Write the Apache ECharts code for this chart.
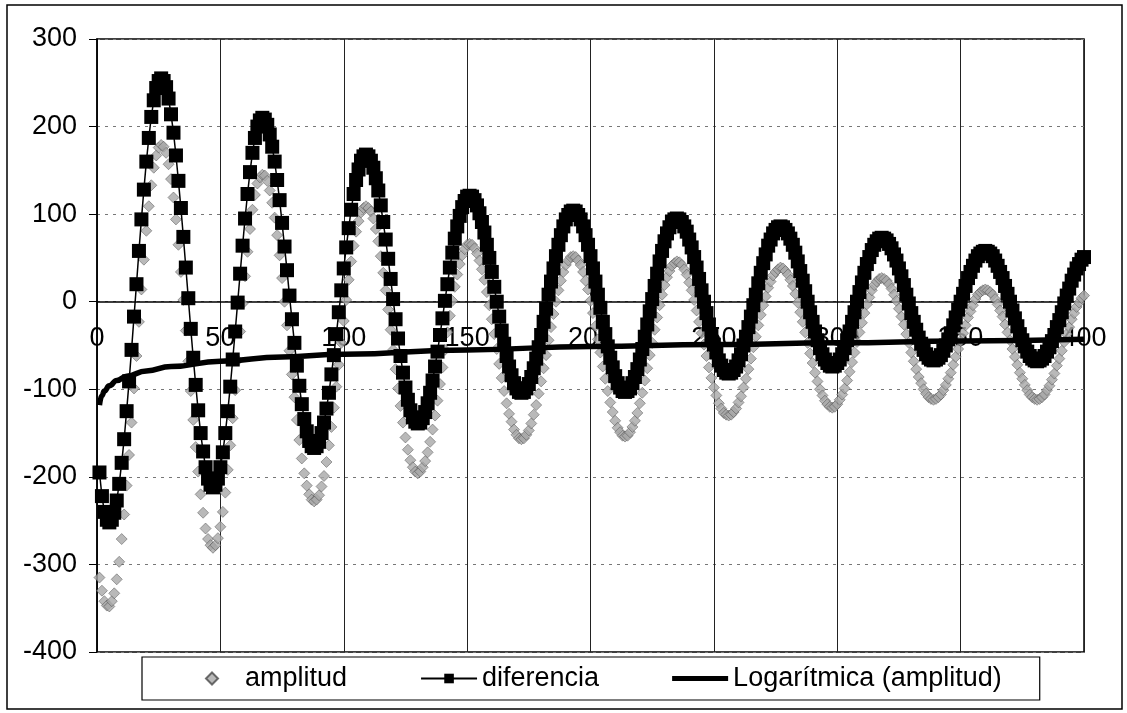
<!DOCTYPE html>
<html>
<head>
<meta charset="utf-8">
<title>amplitud / diferencia</title>
<script src="https://cdn.jsdelivr.net/npm/echarts@6/dist/echarts.min.js"></script>
<style>
  html, body { margin: 0; padding: 0; background: #fff; }
  #chart { width: 1127px; height: 713px; }
</style>
</head>
<body>
<div id="chart"></div>
<script>
// Samples are taken at x = 1, 2, 3 ... 400 (one value per unit step).
const amplitud = [
  -315,-330,-342,-347,-348,-342,-333,-317,-297,-271,-243,-210,-175,-138,-99,-62,-23,14,48,81,
  109,133,153,167,176,179,177,170,157,140,119,94,65,34,2,-33,-68,-102,-135,-166,
  -194,-220,-241,-259,-271,-278,-281,-278,-270,-257,-240,-218,-192,-164,-133,-101,-67,-34,-2,29,
  57,83,105,122,135,142,145,144,138,127,113,96,76,53,27,0,-27,-56,-83,-109,
  -135,-158,-179,-196,-210,-220,-226,-228,-226,-221,-211,-199,-183,-164,-143,-121,-97,-72,-47,-22,
  2,25,46,64,80,92,102,107,109,107,103,95,83,69,52,33,13,-9,-32,-55,
  -77,-99,-119,-138,-155,-169,-181,-189,-194,-196,-194,-189,-182,-172,-160,-146,-130,-113,-94,-75,
  -55,-35,-16,1,17,31,43,53,60,65,66,65,61,55,47,37,25,11,-4,-20,
  -37,-54,-71,-87,-102,-116,-128,-137,-146,-152,-156,-157,-156,-152,-147,-139,-129,-118,-105,-91,
  -76,-61,-44,-29,-14,0,13,24,34,42,47,51,52,51,47,42,34,24,14,1,
  -13,-28,-43,-58,-74,-88,-102,-115,-126,-136,-144,-149,-153,-154,-153,-149,-143,-136,-127,-116,
  -104,-90,-76,-61,-47,-32,-18,-4,8,19,28,35,41,44,46,45,42,37,31,22,
  13,2,-10,-23,-36,-49,-62,-75,-87,-98,-107,-116,-122,-127,-129,-130,-129,-126,-122,-115,
  -108,-98,-88,-77,-65,-52,-40,-27,-15,-4,6,16,23,30,34,37,39,38,35,31,
  25,18,9,-1,-12,-23,-35,-47,-59,-70,-81,-91,-100,-107,-113,-117,-120,-121,-120,-117,
  -112,-106,-99,-90,-80,-69,-58,-46,-35,-24,-13,-3,5,13,19,23,26,27,26,24,
  20,15,8,1,-8,-17,-26,-37,-47,-58,-68,-77,-86,-93,-100,-105,-109,-111,-112,-111,
  -109,-106,-101,-95,-88,-81,-72,-63,-54,-45,-36,-27,-18,-11,-4,3,8,11,13,14,
  13,11,8,3,-3,-10,-17,-26,-35,-44,-54,-63,-72,-81,-88,-95,-101,-106,-109,-111,
  -112,-111,-109,-106,-101,-96,-89,-82,-73,-65,-56,-46,-37,-29,-20,-13,-6,-1,4,7
];

const diferencia = [
  -195,-222,-240,-249,-252,-249,-241,-227,-208,-184,-157,-125,-91,-55,-17,20,58,94,128,160,
  187,211,230,244,252,255,252,245,232,214,193,167,138,107,74,39,4,-31,-64,-95,
  -124,-150,-171,-189,-202,-209,-212,-209,-202,-189,-172,-150,-125,-97,-66,-34,-1,32,64,95,
  123,148,170,187,200,207,210,208,202,191,177,160,139,116,90,63,36,7,-20,-47,
  -73,-96,-117,-134,-148,-159,-165,-167,-165,-160,-150,-138,-122,-104,-83,-61,-37,-12,13,38,
  62,84,105,123,139,151,161,166,168,166,161,153,141,127,110,91,71,49,26,3,
  -20,-42,-62,-81,-98,-112,-124,-132,-137,-139,-138,-133,-126,-116,-104,-90,-74,-57,-38,-19,
  1,20,39,56,72,86,98,108,115,120,121,120,116,110,101,91,79,65,50,34,
  17,0,-17,-33,-48,-62,-74,-84,-93,-99,-103,-104,-103,-99,-94,-86,-76,-65,-52,-38,
  -23,-8,8,23,38,52,65,76,86,94,99,103,104,103,99,94,86,76,65,52,
  38,23,8,-7,-23,-37,-51,-64,-75,-85,-93,-98,-102,-103,-102,-99,-93,-86,-77,-66,
  -54,-40,-26,-11,3,18,32,46,58,69,78,85,91,94,95,94,91,86,80,71,
  62,51,39,26,13,0,-13,-26,-38,-49,-58,-67,-73,-78,-81,-82,-81,-78,-74,-67,
  -60,-50,-40,-29,-17,-4,8,21,33,44,54,64,71,78,82,85,86,85,82,78,
  72,65,56,46,35,24,12,0,-12,-23,-34,-44,-53,-60,-66,-70,-73,-74,-73,-70,
  -66,-60,-53,-44,-34,-23,-12,0,11,22,33,43,51,59,65,69,72,73,72,70,
  66,61,54,47,38,29,19,8,-2,-13,-23,-32,-41,-48,-55,-60,-64,-66,-67,-66,
  -64,-61,-56,-50,-43,-36,-27,-18,-9,0,9,18,27,34,41,47,52,55,57,58,
  57,55,52,47,41,34,27,18,9,0,-10,-19,-28,-37,-44,-51,-57,-62,-65,-67,
  -68,-67,-65,-62,-57,-52,-45,-38,-29,-21,-12,-2,7,15,24,31,38,43,48,51
];

// Logarithmic trend of "amplitud", sampled along x
const trendX = [1, 2, 3, 5, 8, 12, 20, 30, 50, 75, 100, 150, 200, 250, 300, 350, 400];
const trendY = [-118, -107, -102, -96, -90, -85, -79, -74, -68, -63, -60, -55, -51, -49, -47, -45, -43];

const seriesNames = ['amplitud', 'diferencia', 'Logarítmica (amplitud)'];

const xRange = { min: 0, max: 400, step: 50 };
const yRange = { min: -400, max: 300, step: 100 };

const FONT = '"Liberation Sans", Arial, Helvetica, sans-serif';

const GRID = { left: 97, top: 39, right: 43, bottom: 61 };
const PLOT_H = 713 - GRID.top - GRID.bottom;

const withX = arr => arr.map((v, i) => [i + 1, v]);
const trendPoints = trendX.map((x, i) => [x, trendY[i]]);

// distance from the bottom of the plot up to the y = 0 line
const zeroLift = PLOT_H * (0 - yRange.min) / (yRange.max - yRange.min);

const chart = echarts.init(document.getElementById('chart'), null, { renderer: 'canvas' });

const labelStyle = { fontSize: 27, color: '#000', fontFamily: FONT };

chart.setOption({
  animation: false,
  backgroundColor: '#ffffff',
  textStyle: { fontFamily: FONT, color: '#000' },
  graphic: [{
    type: 'rect',
    x: 7, y: 5,
    shape: { x: 0, y: 0, width: 1115, height: 704 },
    style: { fill: 'none', stroke: '#000', lineWidth: 1.5 },
    silent: true,
    z: -10
  }],
  grid: Object.assign({
    show: true,
    borderColor: '#000',
    borderWidth: 1.5,
    backgroundColor: 'transparent'
  }, GRID),
  xAxis: [
    {
      type: 'value',
      min: xRange.min, max: xRange.max, interval: xRange.step,
      axisLine: { show: true, onZero: true, lineStyle: { color: '#000', width: 1.5 } },
      axisTick: { show: false },
      axisLabel: { show: false },
      splitLine: { show: true, lineStyle: { color: '#222', width: 1 } }
    },
    {
      // tick labels riding on the y = 0 line
      type: 'value',
      position: 'bottom',
      offset: -zeroLift,
      min: xRange.min, max: xRange.max, interval: xRange.step,
      axisLine: { show: false, onZero: false },
      axisTick: { show: false },
      splitLine: { show: false },
      axisLabel: Object.assign({ margin: 23 }, labelStyle)
    }
  ],
  yAxis: {
    type: 'value',
    min: yRange.min, max: yRange.max, interval: yRange.step,
    axisLine: { show: true, onZero: false, lineStyle: { color: '#000', width: 1.5 } },
    axisTick: { show: true, length: 8, lineStyle: { color: '#000', width: 1 } },
    axisLabel: Object.assign({ margin: 20 }, labelStyle),
    splitLine: { show: true, lineStyle: { color: '#777', width: 1, type: [3, 5] } }
  },
  legend: {
    left: 142, top: 657,
    orient: 'horizontal',
    padding: [8, 38, 8, 63],
    itemGap: 73,
    itemWidth: 56,
    itemHeight: 12,
    borderColor: '#000',
    borderWidth: 1.2,
    backgroundColor: '#fff',
    textStyle: labelStyle,
    data: [
      { name: seriesNames[0], icon: 'path://M5,0L10,5L5,10L0,5Z' },
      { name: seriesNames[1] },
      { name: seriesNames[2], icon: 'path://M0,0H56V5H0Z' }
    ]
  },
  series: [
    {
      name: seriesNames[0],
      type: 'scatter',
      xAxisIndex: 0,
      data: withX(amplitud),
      symbol: 'diamond',
      symbolSize: 11,
      itemStyle: { color: '#a8a8a8', borderColor: '#4a4a4a', borderWidth: 0.6 },
      z: 2
    },
    {
      name: seriesNames[1],
      type: 'line',
      xAxisIndex: 0,
      data: withX(diferencia),
      symbol: 'rect',
      symbolSize: 14,
      showSymbol: true,
      lineStyle: { color: '#000', width: 1.5 },
      itemStyle: { color: '#000' },
      z: 3
    },
    {
      name: seriesNames[2],
      type: 'line',
      xAxisIndex: 0,
      data: trendPoints,
      smooth: true,
      smoothMonotone: 'x',
      symbol: 'none',
      showSymbol: false,
      lineStyle: { color: '#000', width: 5.5 },
      itemStyle: { color: '#000' },
      z: 4
    }
  ]
});
</script>
</body>
</html>
